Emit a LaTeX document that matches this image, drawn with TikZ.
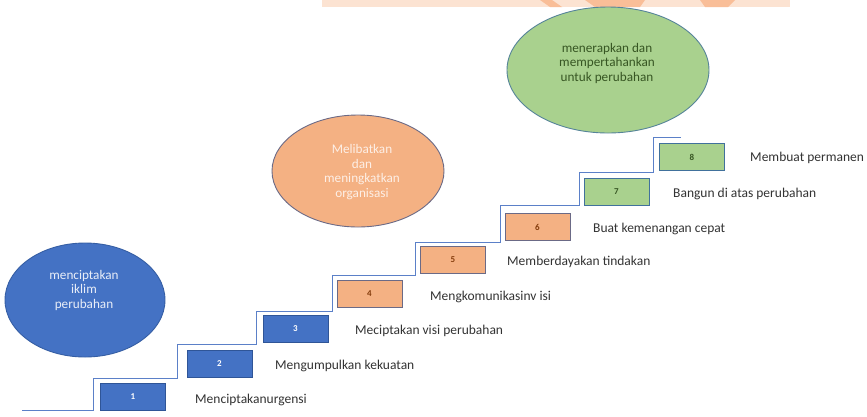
\documentclass[tikz,border=0pt]{standalone}
\usepackage{fontspec}
\setmainfont{Carlito}
\usetikzlibrary{shapes.geometric}
\definecolor{bfill}{HTML}{4472C4}
\definecolor{bline}{HTML}{2F5597}
\definecolor{ofill}{HTML}{F4B183}
\definecolor{oline}{HTML}{6B6A86}
\definecolor{gfill}{HTML}{A9D18E}
\definecolor{gline}{HTML}{41719C}
\definecolor{gtext}{HTML}{375623}
\definecolor{otext}{HTML}{843C0C}
\definecolor{stair}{HTML}{5B80C8}
\definecolor{lbl}{HTML}{333333}
\definecolor{peach}{HTML}{FCE3D2}
\definecolor{peachd}{HTML}{F9BE98}
\tikzset{
  stepbox/.style={rectangle, minimum width=65pt, minimum height=27pt, inner sep=0pt, line width=0.9pt, font=\fontsize{9}{10}\selectfont\bfseries},
  bluebox/.style={stepbox, fill=bfill, draw=bline, text=white},
  orbox/.style={stepbox, fill=ofill, draw=oline, text=otext},
  grbox/.style={stepbox, fill=gfill, draw=gline, text=gtext},
  steplabel/.style={anchor=west, inner sep=0pt, text=lbl, font=\fontsize{13.5}{15}\selectfont},
  blob/.style={ellipse, inner sep=0pt, line width=0.9pt},
  blobtext/.style={align=center, inner sep=0pt, font=\fontsize{13.2}{14.5}\selectfont}
}
\begin{document}
\begin{tikzpicture}[x=1pt,y=-1pt]
\useasboundingbox[fill=white] (0,0) rectangle (867,416);
% faint top banner
\fill[peach] (322,0) rectangle (790,7);
\fill[peachd] (540,0) -- (552,0) -- (562,7) -- (550,7) -- cycle;
\fill[peachd] (585,0) -- (645,0) -- (640,7) -- (595,7) -- cycle;
\fill[peachd] (700,0) -- (735,0) -- (728,7) -- (705,7) -- cycle;
% staircase
\draw[stair, line width=1pt] (22,410) -- (93,410) -- (93,378) -- (177,378) -- (177,344) -- (256,344) -- (256,311) -- (332,311) -- (332,275) -- (415,275) -- (415,242) -- (500,242) -- (500,205) -- (579,205) -- (579,172) -- (653,172) -- (653,137) -- (681,137);
% ellipses
\node[blob, fill=bfill, draw=bline!70!bfill, minimum width=160pt, minimum height=114pt] (e1) at (85,300) {};
\node[blobtext, text=white!88!bfill] (t1) at (84,290) {menciptakan\\iklim\\perubahan};
\node[blob, fill=ofill, draw=oline, minimum width=172pt, minimum height=112pt] (e2) at (358,171) {};
\node[blobtext, text=white!80!ofill] (t2) at (362,172) {Melibatkan\\dan\\meningkatkan\\organisasi};
\node[blob, fill=gfill, draw=gline!80!gfill, minimum width=202pt, minimum height=126pt] (e3) at (608,70) {};
\node[blobtext, text=gtext] (t3) at (607,63) {menerapkan dan\\mempertahankan\\untuk perubahan};
% boxes
\node[bluebox] (b1) at (133,397) {1};
\node[bluebox] (b2) at (219.5,364) {2};
\node[bluebox] (b3) at (295.5,328.5) {3};
\node[orbox] (b4) at (369.5,293.5) {4};
\node[orbox] (b5) at (453,260) {5};
\node[orbox] (b6) at (537.5,227) {6};
\node[grbox] (b7) at (616.5,192) {7};
\node[grbox] (b8) at (692,157) {8};
% labels
\node[steplabel] (l1) at (195,400) {Menciptakanurgensi};
\node[steplabel] (l2) at (275,366) {Mengumpulkan kekuatan};
\node[steplabel] (l3) at (355,331) {Meciptakan visi perubahan};
\node[steplabel] (l4) at (430,297) {Mengkomunikasinv isi};
\node[steplabel] (l5) at (507,262) {Memberdayakan tindakan};
\node[steplabel] (l6) at (593,229) {Buat kemenangan cepat};
\node[steplabel] (l7) at (673,194) {Bangun di atas perubahan};
\node[steplabel] (l8) at (750,158) {Membuat permanen};
\end{tikzpicture}
\end{document}
